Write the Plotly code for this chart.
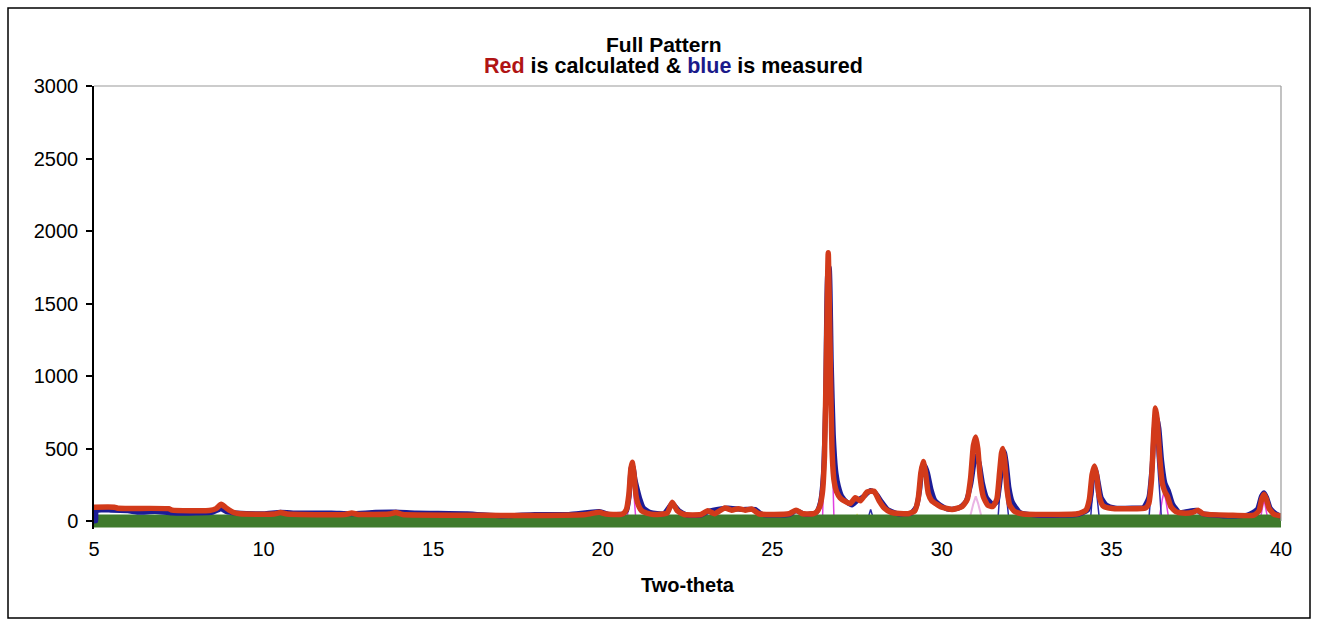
import plotly.graph_objects as go

# ---- data ----
calc_tt = [5.0, 5.6, 5.7, 7.2, 7.3, 8.4, 8.6, 8.75, 8.9, 9.1, 9.3, 10.3, 10.5, 10.7, 12.4, 12.6, 12.8,
           13.7, 13.9, 14.1, 16.0, 17.0, 18.0, 19.5, 19.9, 20.1, 20.5, 20.6, 20.7, 20.77, 20.83, 20.87,
           20.92, 20.98, 21.05, 21.15, 21.3, 21.5, 21.9, 22.05, 22.2, 22.4, 22.9, 23.1, 23.3, 23.6, 23.8,
           24.0, 24.2, 24.4, 24.6, 25.5, 25.7, 25.9, 26.2, 26.3, 26.4, 26.48, 26.54, 26.6, 26.65, 26.7,
           26.76, 26.82, 26.9, 27.0, 27.15, 27.3, 27.45, 27.6, 27.8, 28.0, 28.15, 28.3, 28.5, 29.0, 29.2,
           29.3, 29.38, 29.45, 29.52, 29.6, 29.7, 29.85, 30.0, 30.3, 30.6, 30.75, 30.85, 30.93, 31.0,
           31.06, 31.13, 31.22, 31.35, 31.5, 31.62, 31.7, 31.76, 31.8, 31.85, 31.92, 32.0, 32.15, 32.4,
           33.0, 34.0, 34.25, 34.35, 34.43, 34.5, 34.56, 34.64, 34.75, 34.9, 35.1, 35.5, 36.0, 36.1,
           36.18, 36.25, 36.3, 36.35, 36.42, 36.5, 36.58, 36.65, 36.75, 36.9, 37.1, 37.4, 37.55, 37.7,
           38.5, 39.2, 39.35, 39.43, 39.5, 39.57, 39.65, 39.8, 40.0]
calc_int = [95, 95, 88, 85, 75, 72, 85, 115, 90, 60, 50, 48, 58, 48, 45, 55, 45,
            48, 58, 45, 40, 38, 38, 45, 60, 48, 45, 50, 80, 180, 360, 405,
            330, 180, 110, 70, 55, 45, 55, 130, 70, 45, 45, 70, 50, 90, 75,
            85, 75, 82, 50, 50, 75, 50, 50, 60, 100, 200, 450, 1200, 1850, 1250,
            500, 280, 200, 160, 135, 120, 160, 140, 200, 205, 140, 90, 60, 50, 70,
            150, 330, 410, 330, 190, 140, 115, 95, 80, 100, 150, 300, 520, 580,
            500, 300, 170, 110, 100, 150, 330, 470, 500, 420, 220, 110, 65, 48,
            45, 50, 75, 150, 320, 380, 320, 170, 105, 90, 85, 85, 90, 120,
            280, 620, 780, 700, 450, 260, 200, 170, 100, 65, 55, 60, 75, 50,
            40, 40, 70, 150, 185, 150, 85, 45, 35]

meas_tt = [5.0, 5.05, 5.07, 5.5, 6.0, 6.3, 6.8, 7.3, 8.0, 8.5, 8.75, 8.9, 9.2, 10.0, 10.5, 11.0, 12.0,
           12.6, 13.3, 13.9, 14.5, 16.0, 17.0, 17.5, 18.0, 19.0, 19.9, 20.2, 20.6, 20.7, 20.78, 20.84,
           20.89, 20.95, 21.02, 21.1, 21.2, 21.4, 21.8, 22.05, 22.25, 22.5, 22.9, 23.1, 23.5, 23.7,
           24.1, 24.5, 24.7, 25.5, 25.7, 26.0, 26.3, 26.42, 26.5, 26.57, 26.63, 26.68, 26.74, 26.8,
           26.88, 26.95, 27.05, 27.2, 27.35, 27.5, 27.7, 27.9, 28.05, 28.2, 28.4, 28.7, 29.1, 29.25,
           29.35, 29.42, 29.5, 29.58, 29.68, 29.8, 29.95, 30.2, 30.5, 30.7, 30.85, 30.95, 31.02, 31.1,
           31.2, 31.32, 31.5, 31.62, 31.72, 31.79, 31.84, 31.9, 31.98, 32.08, 32.3, 32.8, 33.5, 34.0,
           34.3, 34.4, 34.47, 34.53, 34.6, 34.7, 34.85, 35.1, 35.6, 35.95, 36.1, 36.2, 36.27, 36.33,
           36.4, 36.48, 36.58, 36.68, 36.8, 37.0, 37.5, 37.7, 38.3, 39.0, 39.3, 39.42, 39.5, 39.58,
           39.68, 39.8, 40.0]
meas_int = [0, 0, 70, 75, 70, 60, 65, 55, 55, 60, 85, 65, 55, 50, 60, 55, 55,
            50, 60, 62, 55, 50, 35, 40, 45, 45, 65, 45, 50, 70, 170, 370,
            380, 290, 220, 150, 90, 60, 50, 120, 70, 40, 40, 65, 85, 90,
            80, 80, 45, 45, 70, 45, 60, 130, 300, 800, 1700, 1750, 1100, 600,
            330, 240, 170, 130, 110, 140, 170, 210, 190, 140, 80, 50, 55, 100,
            220, 370, 380, 330, 220, 140, 110, 80, 90, 130, 250, 400, 450, 400,
            260, 160, 115, 130, 280, 450, 480, 400, 230, 130, 60, 40, 40, 45,
            75, 180, 340, 360, 280, 160, 110, 90, 90, 95, 160, 380, 650, 720,
            640, 420, 260, 210, 120, 60, 75, 50, 35, 40, 80, 170, 195, 160,
            90, 60, 30]

# phase components (thin lines)
quartz_tt = [5.0, 20.72, 20.8, 20.85, 20.9, 20.98, 26.48, 26.58, 26.65, 26.72, 26.82,
             36.4, 36.5, 36.55, 36.6, 36.7, 39.38, 39.46, 39.5, 39.54, 39.62, 40.0]
quartz_int = [0, 0, 250, 400, 250, 0, 0, 900, 1850, 900, 0,
              0, 150, 200, 150, 0, 0, 100, 150, 100, 0, 0]

phase2_tt = [5.0, 30.8, 30.93, 31.0, 31.07, 31.2, 40.0]
phase2_int = [0, 0, 120, 170, 120, 0, 0]

phase3_tt = [5.0, 27.4, 27.5, 27.6, 40.0]
phase3_int = [0, 0, 40, 0, 0]

phase4_tt = [5.0, 27.8, 27.9, 28.0, 31.65, 31.75, 31.8, 31.85, 31.98, 34.38, 34.46, 34.5, 34.54,
             34.65, 36.1, 36.25, 36.3, 36.35, 36.48, 40.0]
phase4_int = [0, 0, 80, 0, 0, 300, 490, 300, 0, 0, 250, 370, 250,
              0, 0, 450, 700, 450, 0, 0]

base_tt = [5.0, 40.1]
base_int = [0, 0]

x_ticks = [5, 10, 15, 20, 25, 30, 35, 40]
y_ticks = [0, 500, 1000, 1500, 2000, 2500, 3000]

FONT = "Liberation Sans, Arial, sans-serif"

fig = go.Figure()
fig.add_trace(go.Scatter(x=quartz_tt, y=quartz_int, mode="lines",
                         line=dict(color="#e040e0", width=1.5), showlegend=False))
fig.add_trace(go.Scatter(x=phase2_tt, y=phase2_int, mode="lines",
                         line=dict(color="#eab4e4", width=2), showlegend=False))
fig.add_trace(go.Scatter(x=phase3_tt, y=phase3_int, mode="lines",
                         line=dict(color="#f2f060", width=2), showlegend=False))
fig.add_trace(go.Scatter(x=phase4_tt, y=phase4_int, mode="lines",
                         line=dict(color="#2a2aa8", width=1.5), showlegend=False))
fig.add_trace(go.Scatter(x=base_tt, y=base_int, mode="lines",
                         line=dict(color="#3f7a2c", width=13), showlegend=False))
fig.add_trace(go.Scatter(x=meas_tt, y=meas_int, mode="lines",
                         line=dict(color="#1c1c96", width=5, shape="spline", smoothing=0.5),
                         showlegend=False))
fig.add_trace(go.Scatter(x=calc_tt, y=calc_int, mode="lines",
                         line=dict(color="#d23a1a", width=5.5, shape="spline", smoothing=0.5),
                         showlegend=False))

# plot area: x 94..1281 ; y: 3000 at 86, 0 at 521, extended down to 529 so the base band shows
TOP, ZERO, BOT = 86, 521, 529
LEFT, RIGHT = 94, 1281
units_per_px = 3000 / (ZERO - TOP)
ymin = -(BOT - ZERO) * units_per_px
L, R, T, B = LEFT, 1318 - RIGHT, TOP, 626 - BOT
PW, PH = RIGHT - LEFT, BOT - TOP


def px(xp):
    return (xp - L) / PW


def py(yp):
    return (BOT - yp) / PH


fig.update_layout(
    width=1318, height=626,
    margin=dict(l=L, r=R, t=T, b=B, pad=0),
    paper_bgcolor="white", plot_bgcolor="white",
    font=dict(family=FONT, color="black", size=20),
    xaxis=dict(range=[5, 40], tickvals=x_ticks, ticktext=[str(v) for v in x_ticks],
               showgrid=False, zeroline=False, showline=False, ticks="",
               tickfont=dict(size=20), ticklabelstandoff=6,
               title=dict(text="<b>Two-theta</b>", font=dict(size=20), standoff=18)),
    yaxis=dict(range=[ymin, 3000], tickvals=y_ticks, ticktext=[str(v) for v in y_ticks],
               showgrid=False, zeroline=False, showline=True, linecolor="black", linewidth=1.5,
               ticks="outside", ticklen=6, tickcolor="black", tickwidth=1.5,
               tickfont=dict(size=20), ticklabelstandoff=4),
    shapes=[
        dict(type="line", xref="paper", yref="paper", x0=0, x1=1, y0=1, y1=1,
             line=dict(color="#9a9a9a", width=1.2)),
        dict(type="line", xref="paper", yref="paper", x0=1, x1=1, y0=py(ZERO), y1=1,
             line=dict(color="#9a9a9a", width=1.2)),
        dict(type="rect", xref="paper", yref="paper", x0=px(8), x1=px(1310), y0=py(618), y1=py(8),
             line=dict(color="black", width=1.5), fillcolor="rgba(0,0,0,0)", layer="above"),
    ],
    annotations=[
        dict(text="<b>Full Pattern</b>", xref="paper", yref="paper", x=px(664), y=py(44),
             xanchor="center", yanchor="middle", showarrow=False, font=dict(size=21)),
        dict(text="<b><span style='color:#b01414'>Red</span> is calculated &amp; "
                  "<span style='color:#1a1a8a'>blue</span> is measured</b>",
             xref="paper", yref="paper", x=px(673), y=py(66),
             xanchor="center", yanchor="middle", showarrow=False, font=dict(size=21.5)),
    ],
)

fig.write_html("out.html")
